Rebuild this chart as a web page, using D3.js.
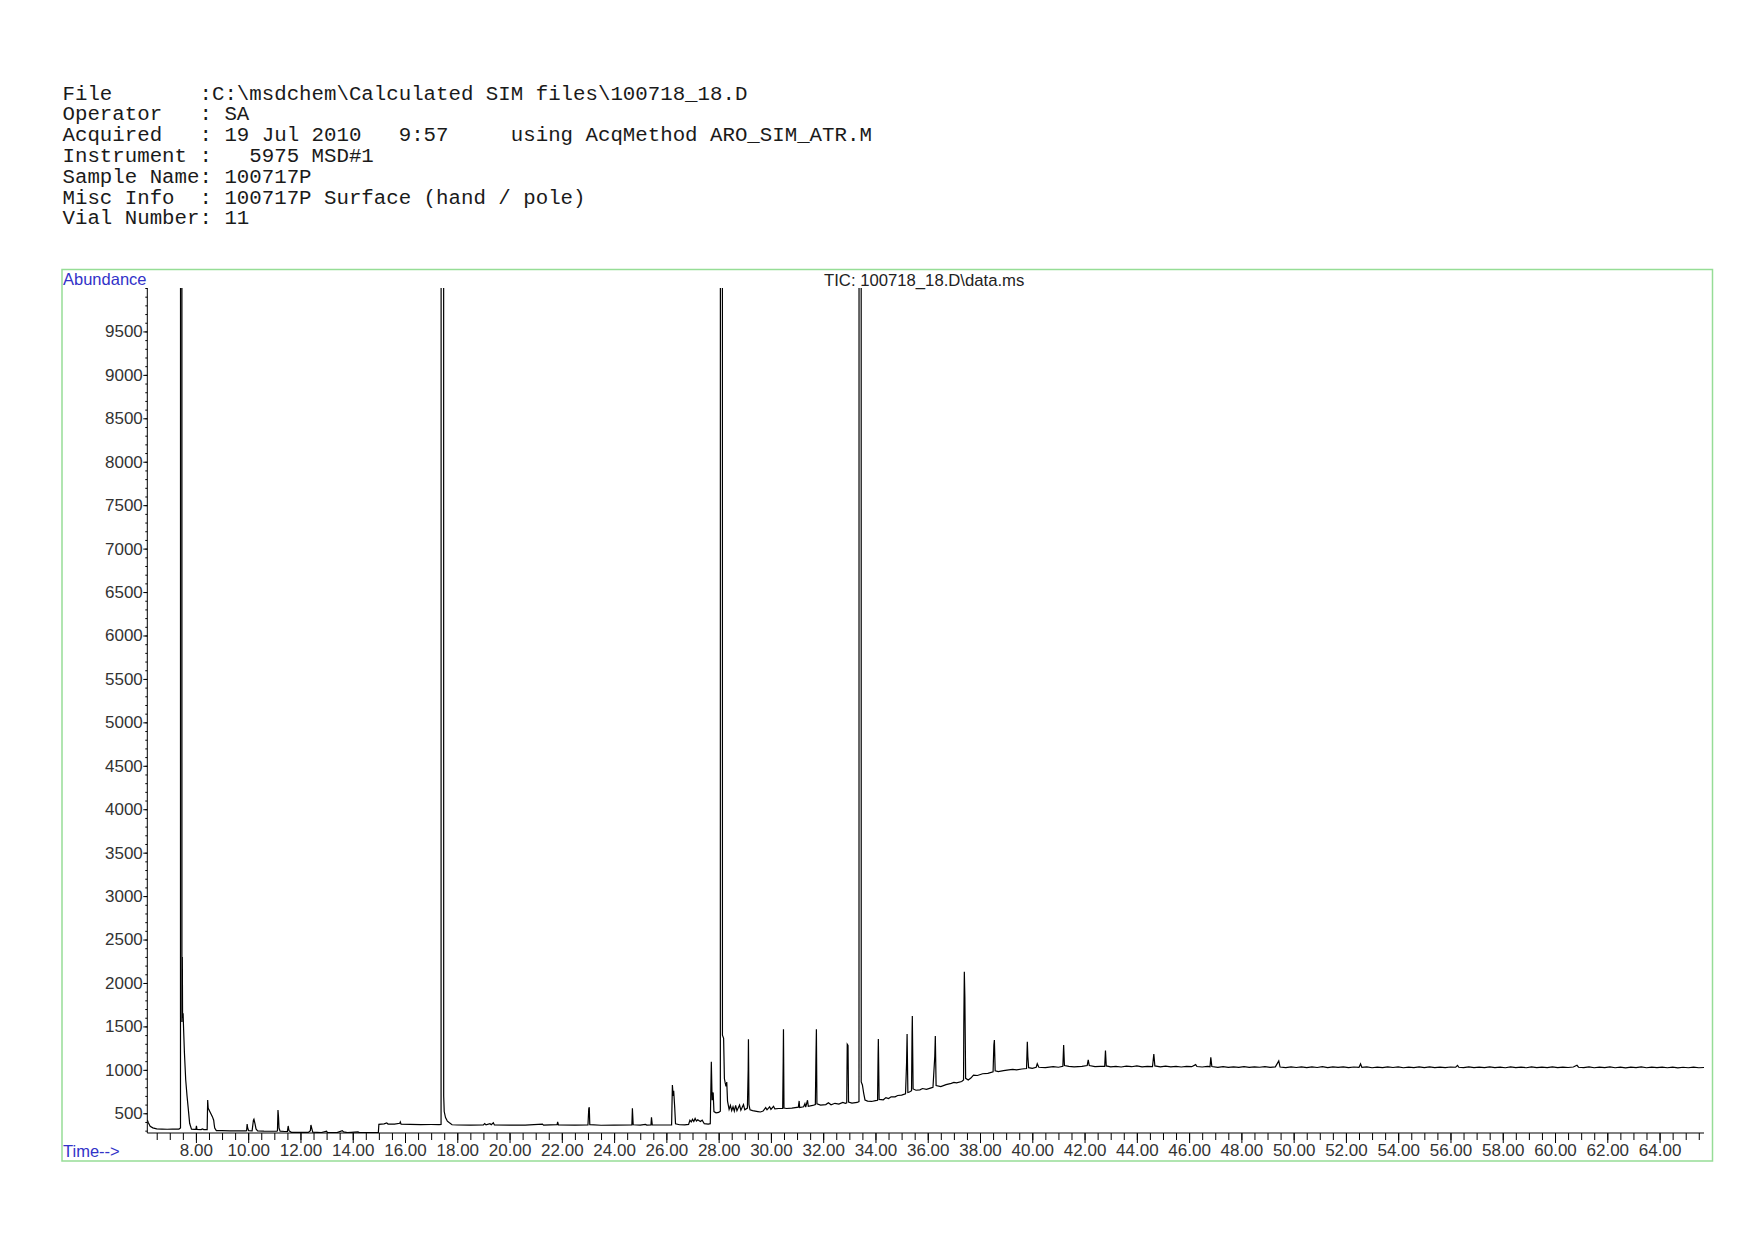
<!DOCTYPE html>
<html>
<head>
<meta charset="utf-8">
<script src="https://cdn.jsdelivr.net/npm/d3@7"></script>
<style>
  html, body { margin: 0; padding: 0; background: #fff; }
  svg { display: block; }
  .hdr { font-family: "Courier New", "Liberation Mono", monospace; font-size: 20.75px; fill: #1a1a1a; white-space: pre; }
  .tick text { font-family: Arial, "Liberation Sans", sans-serif; font-size: 17px; fill: #333; }
</style>
</head>
<body>
<svg id="chart" width="1754" height="1240"></svg>
<script>
// Report header, one line per row.
const headerLines = [
  'File       :C:\\msdchem\\Calculated SIM files\\100718_18.D',
  'Operator   : SA',
  'Acquired   : 19 Jul 2010   9:57     using AcqMethod ARO_SIM_ATR.M',
  'Instrument :   5975 MSD#1',
  'Sample Name: 100717P',
  'Misc Info  : 100717P Surface (hand / pole)',
  'Vial Number: 11',
];

const chartTitle = 'TIC: 100718_18.D\\data.ms';

// Axis ranges and ticks (time in minutes, abundance in counts).
const timeDomain = [6.14, 65.7];
const abundanceDomain = [273, 10000];
const timeMajorTicks = d3.range(8, 64.01, 2);
const timeMinorTicks = d3.range(6.5, 65.51, 0.5);
const abundanceMajorTicks = d3.range(500, 9501, 500);
const abundanceMinorTicks = d3.range(300, 10001, 100);

// Off-scale apex value for peaks that run past the top of the plot.
const OFF = 300000;

// TIC trace, [time, abundance] in four pieces.
const trace0to17 = [
  [6.14, 423], [6.18, 392], [6.25, 350], [6.35, 332], [6.5, 320], [6.7, 318], [6.9, 316],
  [7.1, 318], [7.25, 317], [7.35, 318], [7.41, 330], [7.44, OFF], [7.465, 1550], [7.48, 2300],
  [7.49, 1600], [7.51, 1651], [7.53, 1459], [7.56, 1200], [7.61, 883], [7.66, 700], [7.70, 576],
  [7.76, 385], [7.83, 316], [7.95, 315], [8.0, 316], [8.02, 354], [8.04, 314], [8.2, 312],
  [8.25, 320], [8.3, 312], [8.43, 312], [8.45, 653], [8.47, 560], [8.49, 545], [8.55, 510],
  [8.63, 461], [8.68, 420], [8.70, 370], [8.72, 330], [8.78, 300], [9.0, 300], [9.3, 298],
  [9.6, 297], [9.9, 297], [9.94, 300], [9.96, 377], [9.98, 330], [10.02, 300], [10.15, 298],
  [10.2, 420], [10.22, 431], [10.26, 380], [10.3, 320], [10.36, 298], [10.6, 294], [10.9, 293],
  [11.1, 293], [11.12, 300], [11.14, 538], [11.16, 460], [11.18, 330], [11.22, 295], [11.4, 290],
  [11.5, 292], [11.53, 354], [11.56, 300], [11.65, 281], [12.0, 280], [12.3, 280], [12.38, 300],
  [12.4, 365], [12.43, 330], [12.47, 282], [12.8, 278], [13.0, 295], [13.03, 278], [13.4, 277],
  [13.6, 300], [13.65, 285], [13.8, 277], [14.2, 285], [14.25, 277], [14.6, 279], [14.98, 277],
  [15.0, 373], [15.2, 378], [15.3, 390], [15.35, 376], [15.6, 375], [15.8, 385], [15.82, 400],
  [15.85, 374], [16.2, 372], [16.6, 370], [17.0, 371], [17.3, 370], [17.38, 372],
];

const trace17to28 = [
  [17.43, OFF], [17.48, 700], [17.50, 520], [17.55, 450], [17.62, 410], [17.7, 390],
  [17.8, 368], [18.0, 365], [18.5, 363], [19.0, 365], [19.05, 382], [19.1, 366], [19.25, 380],
  [19.3, 368], [19.38, 390], [19.42, 366], [20.0, 363], [20.6, 364], [21.26, 375], [21.3, 364],
  [21.82, 370], [21.84, 400], [21.87, 366], [22.5, 363], [23.0, 365], [23.03, 550], [23.05, 569],
  [23.07, 370], [23.5, 362], [24.0, 364], [24.68, 366], [24.7, 558], [24.73, 368], [25.0, 364],
  [25.2, 372], [25.25, 364], [25.41, 366], [25.43, 454], [25.46, 366], [25.8, 365], [26.2, 366],
  [26.23, 826], [26.26, 700], [26.28, 760], [26.32, 560], [26.35, 380], [26.5, 368], [26.7, 366],
  [26.85, 372], [26.9, 420], [26.95, 400], [27.0, 430], [27.05, 405], [27.1, 440], [27.15, 410],
  [27.2, 425], [27.3, 405], [27.37, 420], [27.45, 380], [27.6, 376], [27.68, 380], [27.72, 1094],
  [27.75, 650], [27.79, 740], [27.82, 520], [27.9, 505], [28.0, 510], [28.065, 525],
];

const trace28to39 = [
  [28.105, OFF], [28.145, 1400], [28.19, 1363], [28.22, 900], [28.25, 850], [28.28, 810],
  [28.31, 860], [28.34, 640], [28.4, 545], [28.45, 590], [28.5, 530], [28.55, 575], [28.6, 525],
  [28.65, 590], [28.7, 530], [28.8, 595], [28.85, 535], [28.95, 600], [29.0, 540], [29.1, 560],
  [29.13, 1000], [29.14, 1352], [29.16, 600], [29.2, 540], [29.3, 530], [29.5, 520], [29.6, 515],
  [29.7, 525], [29.8, 565], [29.85, 540], [29.95, 575], [30.0, 545], [30.1, 580], [30.15, 550],
  [30.3, 555], [30.45, 555], [30.47, 1100], [30.48, 1467], [30.5, 560], [30.6, 555], [30.8, 560],
  [31.05, 570], [31.08, 642], [31.1, 565], [31.25, 575], [31.3, 610], [31.33, 570], [31.4, 650],
  [31.43, 580], [31.6, 590], [31.7, 600], [31.72, 1083], [31.74, 1467], [31.76, 610], [31.9, 595],
  [32.1, 600], [32.2, 620], [32.3, 598], [32.45, 615], [32.6, 605], [32.75, 625], [32.85, 615],
  [32.9, 620], [32.92, 1294], [32.95, 1280], [32.97, 630], [33.1, 618], [33.3, 625], [33.37, 635],
  [33.41, OFF], [33.455, 860], [33.5, 826], [33.55, 730], [33.6, 653], [33.7, 640], [33.85, 636],
  [34.0, 645], [34.08, 650], [34.1, 1158], [34.11, 1355], [34.14, 660], [34.3, 655], [34.4, 680],
  [34.5, 670], [34.6, 690], [34.75, 690], [34.85, 705], [35.0, 710], [35.15, 725], [35.19, 1075],
  [35.21, 1413], [35.24, 740], [35.3, 745], [35.38, 760], [35.4, 1428], [35.41, 1620], [35.44, 780],
  [35.55, 765], [35.7, 770], [35.8, 785], [35.95, 775], [36.1, 790], [36.2, 800], [36.27, 1158],
  [36.29, 1390], [36.32, 820], [36.5, 807], [36.7, 830], [36.9, 845], [37.0, 855], [37.1, 850],
  [37.3, 865], [37.37, 883], [37.38, 1518], [37.40, 2130], [37.42, 1841], [37.45, 902], [37.55, 883],
  [37.65, 905], [37.75, 940], [37.9, 935], [38.1, 955], [38.3, 960], [38.5, 978], [38.53, 1286],
  [38.55, 1344], [38.58, 990], [38.7, 980],
];

const trace39to66 = [
  [38.9, 990], [39.1, 1000], [39.25, 1006], [39.4, 1000], [39.6, 1010], [39.78, 1015], [39.81, 1324],
  [39.83, 1152], [39.86, 1025], [40.0, 1018], [40.15, 1030], [40.19, 1070], [40.25, 1030], [40.5, 1025],
  [40.8, 1037], [41.0, 1030], [41.17, 1040], [41.2, 1286], [41.23, 1050], [41.4, 1040], [41.6, 1035],
  [41.9, 1040], [42.1, 1050], [42.14, 1114], [42.18, 1050], [42.4, 1038], [42.6, 1040], [42.77, 1040],
  [42.8, 1221], [42.83, 1045], [43.0, 1034], [43.2, 1041], [43.4, 1033], [43.6, 1042], [43.8, 1036],
  [44.0, 1046], [44.2, 1035], [44.4, 1041], [44.6, 1038], [44.65, 1183], [44.69, 1045], [44.9, 1035],
  [45.1, 1042], [45.3, 1034], [45.5, 1040], [45.7, 1033], [45.9, 1041], [46.1, 1036], [46.25, 1060],
  [46.3, 1038], [46.5, 1033], [46.7, 1040], [46.8, 1036], [46.83, 1145], [46.87, 1038], [47.1, 1029],
  [47.3, 1036], [47.5, 1028], [47.7, 1035], [47.9, 1029], [48.1, 1036], [48.3, 1028], [48.5, 1035],
  [48.7, 1030], [48.9, 1037], [49.1, 1029], [49.3, 1034], [49.43, 1102], [49.48, 1032], [49.7, 1026],
  [49.9, 1034], [50.1, 1027], [50.3, 1035], [50.5, 1026], [50.7, 1033], [50.9, 1027], [51.1, 1036],
  [51.3, 1026], [51.5, 1034], [51.7, 1028], [51.9, 1035], [52.1, 1026], [52.3, 1033], [52.5, 1028],
  [52.56, 1068], [52.61, 1028], [52.8, 1034], [53.0, 1024], [53.2, 1032], [53.4, 1025], [53.6, 1034],
  [53.8, 1027], [54.0, 1033], [54.2, 1024], [54.4, 1032], [54.6, 1026], [54.8, 1034], [55.0, 1025],
  [55.2, 1033], [55.4, 1026], [55.6, 1032], [55.8, 1025], [56.0, 1033], [56.2, 1030], [56.27, 1052],
  [56.32, 1030], [56.5, 1026], [56.7, 1034], [56.9, 1025], [57.1, 1032], [57.3, 1026], [57.5, 1034],
  [57.7, 1025], [57.9, 1032], [58.1, 1024], [58.3, 1033], [58.5, 1026], [58.7, 1031], [58.9, 1024],
  [59.1, 1033], [59.3, 1025], [59.5, 1032], [59.7, 1026], [59.9, 1034], [60.1, 1025], [60.3, 1032],
  [60.5, 1027], [60.7, 1033], [60.84, 1052], [60.9, 1030], [61.1, 1025], [61.3, 1033], [61.5, 1024],
  [61.7, 1032], [61.9, 1025], [62.1, 1033], [62.3, 1024], [62.5, 1031], [62.7, 1023], [62.9, 1032],
  [63.1, 1025], [63.3, 1033], [63.5, 1024], [63.7, 1031], [63.9, 1025], [64.1, 1032], [64.3, 1024],
  [64.5, 1031], [64.7, 1023], [64.9, 1030], [65.1, 1024], [65.3, 1031], [65.5, 1024], [65.7, 1027],
];

const trace = [...trace0to17, ...trace17to28, ...trace28to39, ...trace39to66];

// Page layout (px).
const frame = {left: 62, top: 269.5, right: 1712.5, bottom: 1161};
const plot = {left: 147.3, top: 288, right: 1704, bottom: 1133};

const svg = d3.select('#chart');

// Header block.
svg.append('g')
  .selectAll('text')
  .data(headerLines)
  .join('text')
  .attr('class', 'hdr')
  .attr('x', 62.5)
  .attr('y', (d, i) => 99.5 + i * 20.8)
  .text((d) => d);

// Green frame round the chart.
svg.append('rect')
  .attr('x', frame.left)
  .attr('y', frame.top)
  .attr('width', frame.right - frame.left)
  .attr('height', frame.bottom - frame.top)
  .attr('fill', 'none')
  .attr('stroke', '#96dd96')
  .attr('stroke-width', 1.5);

const x = d3.scaleLinear().domain(timeDomain).range([plot.left, plot.right]);
const y = d3.scaleLinear().domain(abundanceDomain).range([plot.bottom, plot.top]);

// Clip off-scale peaks at the top of the plot.
svg.append('clipPath')
  .attr('id', 'plot-clip')
  .append('rect')
  .attr('x', plot.left)
  .attr('y', plot.top)
  .attr('width', plot.right - plot.left + 2)
  .attr('height', plot.bottom - plot.top);

// Minor x ticks, then major with labels.
svg.append('g')
  .attr('transform', `translate(0,${plot.bottom})`)
  .call(d3.axisBottom(x).tickValues(timeMinorTicks).tickSize(7).tickSizeOuter(0).tickFormat(''))
  .call((g) => g.select('.domain').attr('d', `M${plot.left},0H${plot.right}`));

svg.append('g')
  .attr('transform', `translate(0,${plot.bottom})`)
  .call(d3.axisBottom(x).tickValues(timeMajorTicks).tickSize(10).tickPadding(1.4).tickFormat(d3.format('.2f')))
  .call((g) => g.select('.domain').remove());

// Minor y ticks, then major with labels.
svg.append('g')
  .attr('transform', `translate(${plot.left},0)`)
  .call(d3.axisLeft(y).tickValues(abundanceMinorTicks).tickSize(2).tickSizeOuter(0).tickFormat(''))
  .call((g) => g.select('.domain').attr('d', `M0,${plot.top}V${plot.bottom}`));

svg.append('g')
  .attr('transform', `translate(${plot.left},0)`)
  .call(d3.axisLeft(y).tickValues(abundanceMajorTicks).tickSize(4).tickPadding(0.5).tickFormat(d3.format('d')))
  .call((g) => g.select('.domain').remove());

svg.selectAll('.tick line, .domain').attr('stroke', '#000');

// The chromatogram.
svg.append('path')
  .datum(trace)
  .attr('clip-path', 'url(#plot-clip)')
  .attr('fill', 'none')
  .attr('stroke', '#000')
  .attr('stroke-width', 1.2)
  .attr('stroke-linejoin', 'miter')
  .attr('d', d3.line().x((d) => x(d[0])).y((d) => y(d[1])));

// Axis captions and title.
const labelFont = 'Arial, "Liberation Sans", sans-serif';

svg.append('text')
  .attr('x', 63)
  .attr('y', 285)
  .attr('font-family', labelFont)
  .attr('font-size', 16.5)
  .attr('fill', '#3232c8')
  .text('Abundance');

svg.append('text')
  .attr('x', 63)
  .attr('y', 1156.5)
  .attr('font-family', labelFont)
  .attr('font-size', 16.5)
  .attr('fill', '#3232c8')
  .text('Time-->');

svg.append('text')
  .attr('x', 824)
  .attr('y', 286)
  .attr('font-family', labelFont)
  .attr('font-size', 16.7)
  .attr('fill', '#222')
  .text(chartTitle);
</script>
</body>
</html>
